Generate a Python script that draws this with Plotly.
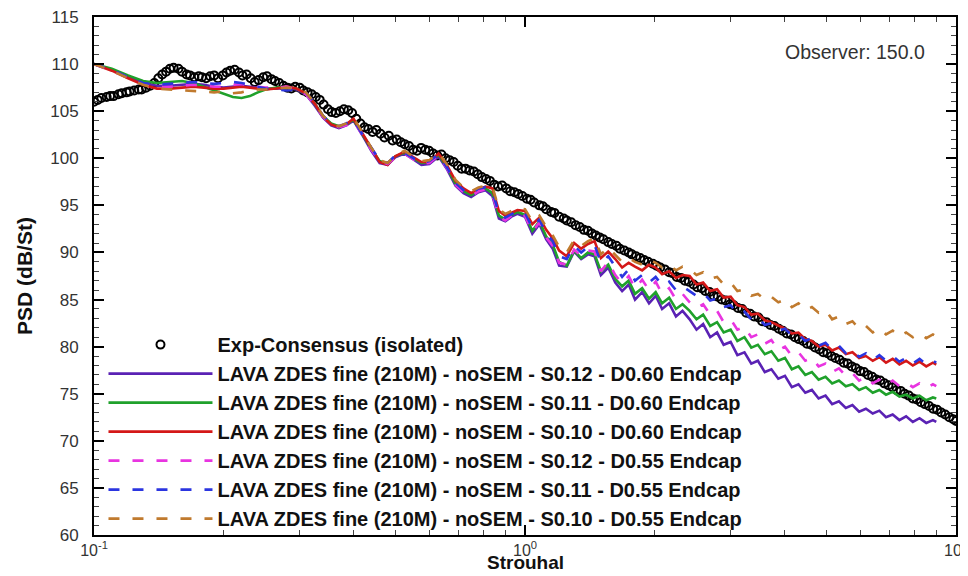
import plotly.graph_objects as go

# ---------------- data ----------------
exp_st = [0.100,0.102,0.104,0.107,0.109,0.111,0.114,0.116,0.119,0.121,0.124,0.127,0.129,0.132,0.135,0.138,0.141,0.144,0.147,0.150,
          0.153,0.157,0.160,0.164,0.167,0.171,0.175,0.178,0.182,0.186,0.190,0.194,0.199,0.203,0.207,0.212,0.217,0.221,0.226,0.231,
          0.236,0.241,0.247,0.252,0.258,0.263,0.269,0.275,0.281,0.287,0.293,0.300,0.306,0.313,0.320,0.327,0.334,0.341,0.349,0.356,
          0.364,0.372,0.380,0.389,0.397,
          0.406,0.415,0.424,0.433,0.443,0.452,0.462,0.472,0.483,0.493,0.504,0.515,0.526,0.538,0.550,0.562,0.574,0.587,0.599,0.612,
          0.626,0.640,0.654,0.668,0.683,0.698,0.713,0.728,0.744,0.761,0.777,0.794,0.812,0.829,0.848,0.866,0.885,0.905,0.924,0.945,
          0.965,0.986,1.01,1.03,1.05,1.08,1.10,1.12,1.15,1.17,1.20,1.23,1.25,1.28,1.31,1.34,1.37,1.40,1.43,1.46,
          1.49,1.52,1.56,1.59,1.63,1.66,1.70,1.74,1.77,1.81,1.85,1.89,1.93,1.98,2.02,
          2.06,2.11,2.16,2.20,2.25,2.30,2.35,2.40,2.46,2.51,2.57,2.62,2.68,2.74,2.80,2.86,2.92,2.99,3.05,3.12,
          3.19,3.26,3.33,3.40,3.48,3.55,3.63,3.71,3.79,3.88,3.96,4.05,4.14,4.23,4.32,4.42,4.51,4.61,4.71,4.82,
          4.92,5.03,5.14,5.25,5.37,5.49,5.61,5.73,5.86,5.99,6.12,6.25,6.39,6.53,6.67,6.82,6.97,7.12,7.28,7.44,
          7.60,7.77,7.94,8.11,8.29,8.47,8.66,8.85,9.04,9.24,9.44,9.65,9.86,10.0]
exp_psd = [106.0,106.2,106.4,106.5,106.6,106.6,106.8,106.9,107.0,107.1,107.2,107.3,107.3,107.5,107.7,108.0,108.5,108.9,109.2,109.5,
           109.6,109.5,109.2,108.9,108.8,108.6,108.7,108.6,108.5,108.7,108.8,108.5,108.8,109.1,109.3,109.4,109.1,108.8,108.9,108.5,
           108.1,108.3,108.6,108.7,108.4,108.2,108.0,107.7,107.5,107.4,107.6,107.5,107.2,107.0,106.8,106.5,106.2,105.7,105.2,104.9,
           104.8,105.0,105.2,105.1,104.8,
           104.2,103.7,103.3,103.1,102.8,103.0,102.6,102.2,102.4,101.9,102.0,101.7,101.5,101.3,100.9,100.8,101.1,100.9,100.8,100.5,
           100.3,100.4,100.0,99.8,99.6,99.2,98.9,98.9,98.7,98.6,98.3,98.0,97.8,97.6,97.2,97.0,97.1,96.8,96.5,96.4,
           96.2,96.0,95.7,95.6,95.3,95.0,94.9,94.6,94.3,94.2,93.8,93.6,93.4,93.2,92.9,92.7,92.4,92.3,92.0,91.8,
           91.6,91.4,91.1,90.9,90.7,90.4,90.2,90.0,89.8,89.6,89.4,89.2,89.0,88.8,88.6,
           88.4,88.2,87.9,87.8,87.4,87.3,87.0,86.9,86.6,86.3,86.2,85.9,85.8,85.4,85.3,85.0,84.9,84.5,84.4,84.1,
           84.0,83.6,83.5,83.2,83.1,82.7,82.6,82.3,82.2,81.9,81.7,81.4,81.3,81.0,80.8,80.6,80.3,80.2,79.9,79.7,
           79.4,79.3,79.0,78.8,78.6,78.3,78.2,77.9,77.7,77.4,77.3,77.0,76.8,76.5,76.4,76.1,75.9,75.7,75.4,75.3,
           75.0,74.8,74.5,74.4,74.1,73.9,73.7,73.4,73.3,73.0,72.8,72.5,72.3,72.1]

lava_st = [0.100,0.110,0.120,0.130,0.140,0.150,0.160,0.170,0.180,0.190,0.200,0.210,0.220,0.230,0.240,0.250,0.265,0.280,0.295,0.310,
           0.325,0.340,0.355,0.370,0.385,0.400,0.420,0.440,0.460,0.480,0.500,0.525,0.550,0.575,0.600,0.630,0.660,0.690,0.720,0.750,
           0.780,0.810,0.840,0.870,0.900,0.930,0.960,1.000,1.040,1.080,1.120,1.160,1.200,1.250,1.300,1.350,1.400,1.450,1.500,1.560,
           1.620,1.680,1.740,1.800,1.870,1.940,2.010,2.080,2.160,2.240,2.320,2.410,2.500,2.590,2.690,2.790,2.890,3.000,3.110,3.230,
           3.350,3.470,3.600,3.730,3.870,4.010,4.160,4.310,4.470,4.630,4.800,4.980,5.160,5.350,5.550,5.750,5.960,6.180,6.410,6.640,
           6.880,7.130,7.390,7.660,7.940,8.230,8.530,8.840,9.000]

psd_s012_d060 = [110.0,109.4,108.7,108.0,107.7,107.7,107.8,107.9,107.8,107.6,107.5,107.6,107.7,107.6,107.5,107.4,107.4,107.5,107.3,106.8,
                 105.6,104.3,103.5,103.2,103.5,104.0,102.4,100.8,99.5,99.3,100.1,100.5,99.9,99.3,99.4,100.2,98.8,97.1,96.3,95.9,
                 96.4,96.6,96.0,93.6,93.3,93.8,94.1,93.8,92.0,93.0,91.4,90.4,88.6,88.5,90.1,89.3,89.8,89.6,87.6,88.4,
                 86.8,85.9,86.6,85.0,85.8,84.6,85.4,84.0,84.6,83.2,83.8,82.9,81.8,82.4,81.0,81.5,80.2,80.5,79.1,79.4,
                 78.2,78.5,77.3,77.6,76.6,76.9,75.7,76.0,75.1,75.4,74.5,74.8,73.9,74.2,73.5,73.8,73.1,73.4,72.9,73.2,
                 72.5,72.8,72.2,72.6,72.0,72.4,71.9,72.2,72.0]
psd_s011_d060 = [110.0,109.5,108.8,108.2,108.0,108.1,108.2,108.0,107.6,107.2,106.8,106.5,106.4,106.6,107.0,107.3,107.5,107.6,107.4,106.9,
                 105.8,104.5,103.7,103.4,103.6,104.1,102.5,101.0,99.7,99.4,100.2,100.6,100.0,99.5,99.6,100.4,99.0,97.3,96.5,96.1,
                 96.6,96.8,96.3,93.9,93.5,94.0,94.3,94.0,92.3,93.3,91.7,90.8,89.0,88.6,90.2,89.4,90.0,89.8,88.0,88.7,
                 87.2,86.4,87.0,85.6,86.2,85.1,85.8,84.6,85.2,84.0,84.5,83.8,82.9,83.4,82.2,82.6,81.5,81.8,80.6,81.0,
                 79.9,80.2,79.2,79.5,78.5,78.8,77.6,77.9,77.0,77.3,76.5,76.8,76.1,76.4,75.8,76.0,75.4,75.7,75.1,75.4,
                 74.9,75.2,74.7,74.9,74.5,74.8,74.3,74.6,74.5]
psd_s010_d060 = [110.0,109.3,108.5,107.8,107.4,107.4,107.5,107.6,107.5,107.4,107.4,107.5,107.6,107.5,107.4,107.3,107.4,107.6,107.4,106.9,
                 105.8,104.4,103.6,103.3,103.6,104.2,102.6,101.0,99.6,99.3,100.2,100.7,100.1,99.6,99.6,100.5,99.2,97.6,96.8,96.3,
                 96.7,97.0,96.8,94.4,93.9,94.2,94.5,94.4,93.0,93.7,92.4,91.5,90.2,89.6,91.0,90.4,90.9,91.2,89.4,90.1,
                 89.3,88.4,88.9,88.5,88.1,88.7,88.4,87.7,88.0,87.3,87.6,87.5,86.6,86.8,85.9,86.1,85.2,85.3,84.4,84.2,
                 83.4,83.5,82.8,82.6,82.2,81.9,81.4,81.5,80.8,80.6,80.0,80.2,79.6,79.9,79.2,79.4,78.8,79.0,78.5,78.9,
                 78.3,78.7,78.1,78.5,78.0,78.4,77.9,78.3,78.1]
psd_s012_d055 = [110.0,109.3,108.6,107.9,107.6,107.6,107.7,107.8,107.7,107.6,107.6,107.8,107.9,107.7,107.6,107.5,107.5,107.6,107.3,106.8,
                 105.7,104.4,103.6,103.3,103.5,104.0,102.4,100.9,99.7,99.4,100.1,100.5,99.9,99.4,99.5,100.3,98.9,97.2,96.4,96.0,
                 96.5,96.7,96.2,93.8,93.4,93.9,94.2,93.9,92.2,93.2,91.6,90.7,88.9,88.7,90.3,89.6,90.2,90.1,88.0,89.0,
                 87.6,86.7,87.5,86.2,87.1,86.0,86.9,85.6,86.2,85.0,85.6,84.7,84.1,84.5,83.4,83.8,82.6,82.9,81.8,82.1,
                 81.0,81.3,80.3,80.7,79.6,80.0,79.0,79.4,78.5,78.8,77.9,78.2,77.3,77.7,76.9,77.2,76.4,76.8,76.1,76.5,
                 75.9,76.4,75.8,76.2,75.7,76.1,75.6,76.0,75.8]
psd_s011_d055 = [110.0,109.4,108.6,108.0,107.8,107.9,108.0,108.1,108.0,107.9,108.0,108.1,108.0,107.8,107.6,107.4,107.3,107.2,107.3,107.0,
                 105.9,104.5,103.7,103.4,103.7,104.1,102.5,101.1,99.8,99.5,100.3,100.6,100.0,99.5,99.7,100.4,99.0,97.4,96.6,96.2,
                 96.8,96.9,96.5,94.1,93.7,94.1,94.4,94.2,92.6,93.5,92.0,91.2,89.6,89.3,90.7,90.0,90.6,90.8,88.9,89.6,
                 88.5,87.4,88.2,87.0,87.6,86.8,87.4,86.5,86.9,86.0,86.4,85.9,85.4,85.7,84.9,85.1,84.2,84.4,83.5,83.7,
                 82.9,83.1,82.3,82.5,81.7,81.9,81.2,81.3,80.6,80.9,80.1,80.4,79.7,80.1,79.3,79.6,78.9,79.3,78.6,79.1,
                 78.5,79.0,78.4,78.8,78.2,78.7,78.1,78.5,78.3]
psd_s010_d055 = [110.0,109.3,108.5,107.8,107.4,107.3,107.2,107.1,107.0,107.0,107.1,106.9,107.0,107.2,107.3,107.3,107.4,107.5,107.4,107.0,
                 105.9,104.5,103.7,103.4,103.7,104.3,102.7,101.1,99.8,99.5,100.3,100.8,100.2,99.7,99.8,100.6,99.3,97.7,96.9,96.5,
                 96.9,97.1,97.0,94.6,94.1,94.4,94.7,94.6,93.3,93.9,92.7,91.8,90.6,90.0,91.3,90.7,91.2,91.5,89.8,90.5,
                 89.7,89.0,89.4,89.0,88.7,89.2,88.9,88.4,88.7,88.1,88.5,88.2,87.6,87.9,87.2,87.4,86.6,86.8,85.9,86.1,
                 85.4,85.6,85.0,85.3,84.7,85.0,84.2,84.6,83.9,84.2,83.6,83.9,82.9,83.2,82.4,82.7,81.9,82.2,81.5,81.9,
                 81.3,81.7,81.1,81.5,81.0,81.4,80.9,81.3,81.1]

series_names = [
    "LAVA ZDES fine (210M) - noSEM - S0.12 - D0.60 Endcap",
    "LAVA ZDES fine (210M) - noSEM - S0.11 - D0.60 Endcap",
    "LAVA ZDES fine (210M) - noSEM - S0.10 - D0.60 Endcap",
    "LAVA ZDES fine (210M) - noSEM - S0.12 - D0.55 Endcap",
    "LAVA ZDES fine (210M) - noSEM - S0.11 - D0.55 Endcap",
    "LAVA ZDES fine (210M) - noSEM - S0.10 - D0.55 Endcap",
]
series_values = [psd_s012_d060, psd_s011_d060, psd_s010_d060, psd_s012_d055, psd_s011_d055, psd_s010_d055]
series_colors = ["#5a22b4", "#1fa12b", "#d41818", "#e834e0", "#2b35e0", "#c07a2e"]
series_dash = ["solid", "solid", "solid", "11px,13px", "11px,13px", "11px,13px"]

x_tick_vals = [0.1, 1, 10]
x_tick_text = ["10<sup>-1</sup>", "10<sup>0</sup>", "10<sup>1</sup>"]
x_minor_vals = [0.2, 0.3, 0.4, 0.5, 0.6, 0.7, 0.8, 0.9, 2, 3, 4, 5, 6, 7, 8, 9]

# ---------------- figure ----------------
FONT = "Liberation Sans, Arial, Helvetica, sans-serif"
fig = go.Figure()

fig.add_trace(go.Scatter(
    x=exp_st, y=exp_psd, mode="markers", name="Exp-Consensus (isolated)",
    marker=dict(symbol="circle-open", size=8, color="black", line=dict(width=2, color="black")),
))
for name, vals, col, dash in zip(series_names, series_values, series_colors, series_dash):
    fig.add_trace(go.Scatter(
        x=lava_st, y=vals, mode="lines", name=name,
        line=dict(color=col, width=2.6, dash=dash),
    ))

fig.update_layout(
    width=968, height=576,
    margin=dict(l=86, r=20, t=9, b=49),
    paper_bgcolor="white", plot_bgcolor="white",
    font=dict(family=FONT, color="#222"),
    showlegend=True,
    legend=dict(
        x=0.011, y=-0.006, xanchor="left", yanchor="bottom",
        bgcolor="rgba(0,0,0,0)", borderwidth=0,
        font=dict(family=FONT, size=20, color="#111", weight="bold"),
        itemwidth=104, tracegroupgap=0,
    ),
    annotations=[
        dict(text="Observer: 150.0", xref="paper", yref="paper", x=0.966, y=0.933,
             xanchor="right", yanchor="middle", showarrow=False,
             font=dict(family=FONT, size=19.5, color="#333")),
        dict(text="<b>Strouhal</b>", xref="paper", yref="paper", x=0.5, y=-0.054,
             xanchor="center", yanchor="middle", showarrow=False,
             font=dict(family=FONT, size=19, color="#111")),
    ],
)

fig.update_xaxes(
    type="log", range=[-1, 1], automargin=False, ticklabeloverflow="allow",
    tickmode="array", tickvals=x_tick_vals, ticktext=x_tick_text,
    ticks="inside", ticklen=10, tickwidth=1.6, tickcolor="black",
    minor=dict(tickmode="array", tickvals=x_minor_vals, ticks="inside", ticklen=5, tickwidth=1, tickcolor="#444"),
    showline=True, linecolor="black", linewidth=2, mirror="allticks",
    showgrid=False, zeroline=False,
    tickfont=dict(family=FONT, size=16, color="#333"),
)
fig.update_yaxes(
    range=[60, 115], tickmode="linear", tick0=60, dtick=5, automargin=False, ticklabeloverflow="allow",
    ticks="inside", ticklen=10, tickwidth=1.6, tickcolor="black",
    minor=dict(dtick=1, ticks="inside", ticklen=5, tickwidth=1, tickcolor="#444"),
    showline=True, linecolor="black", linewidth=2, mirror="allticks",
    showgrid=False, zeroline=False,
    tickfont=dict(family=FONT, size=17, color="#333"),
    ticklabelstandoff=10,
    title=dict(text="<b>PSD (dB/St)</b>", font=dict(family=FONT, size=21, color="#111"), standoff=12),
)

fig.write_html("out.html")
